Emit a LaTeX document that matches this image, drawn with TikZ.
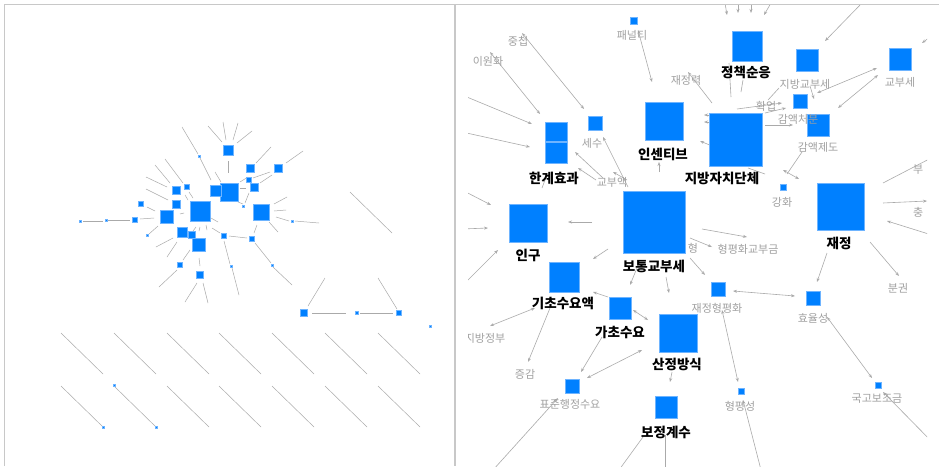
\documentclass[tikz,border=0pt]{standalone}
\usepackage{fontspec}
\newfontfamily\kr{Noto Sans CJK KR}
\usetikzlibrary{arrows.meta}
\definecolor{bl}{RGB}{0,128,255}
\definecolor{blb}{RGB}{110,180,255}
\definecolor{eg}{RGB}{170,170,170}
\definecolor{lg}{RGB}{160,160,160}
\definecolor{fr}{RGB}{200,200,200}
\begin{document}
\begin{tikzpicture}[x=1pt,y=-1pt,
  sq/.style={rectangle,fill=bl,draw=blb,line width=0.5pt,inner sep=0pt,minimum size=#1},
  sq/.default=6pt,
  ov/.style={draw=eg,line width=0.5pt},
  ed/.style={draw=eg,line width=0.6pt},
  ea/.style={ed,-{Stealth[length=4pt,width=3pt]}},
  eb/.style={ed,{Stealth[length=4pt,width=3pt]}-{Stealth[length=4pt,width=3pt]}},
  glab/.style={font=\kr\fontsize{11}{12}\selectfont,text=lg,inner sep=0pt},
  blab/.style={font=\kr\bfseries\fontsize{13.5}{15}\selectfont,text=black,inner sep=0pt}]
\useasboundingbox (0,0) rectangle (939,466);
\fill[white] (0,0) rectangle (939,466);
% frames
\draw[fr,line width=1pt] (4,466) -- (4,4) -- (939,4);
\draw[fr,line width=1.5pt] (455,4) -- (455,466);

% ---------------- left overview ----------------
\foreach \a/\b/\c/\d in {182/127/198/154,200/158/211/180,208/126/222/142,223/122/226/140,238/123/233/140,252/131/237/143,228/161/228/173,271/147/256/163,303/151/286/163,270/172/253/178,272/175/260/183,215/172/221/182,155/165/170/183,165/159/183/183,146/177/167/187,146/189/168/200,147/207/155/211,83/221/103/221,108/220/130/220,140/219/154/218,158/226/149/234,156/247/173/238,167/257/177/242,183/260/190/250,159/287/177/270,185/302/197/283,203/283/208/303,199/258/200/266,224/241/230/264,232/268/239/295,229/236/247/238,255/243/271/263,273/267/292/285,257/225/254/233,269/222/278/232,276/217/289/221,295/221/319/223,274/204/287/197,274/211/286/210,212/228/220/233,211/218/218/222,180/214/184/213,238/202/243/204,249/193/245/203,240/188/246/188,240/182/248/177,189/192/193/198,185/195/188/200,200/227/199/231,196/227/193/231,206/225/207/230,350/192/392/233,325/278/308/306,378/278/397/309,312/313/346/313,360/313/393/313}
  \draw[ov] (\a,\b) -- (\c,\d);
\foreach \x in {61,114,167,219,272,325,378}{
  \draw[ov] (\x,333) -- ++(42,41);
  \draw[ov] (\x,386) -- ++(42,41);
}
\foreach \x/\y/\s [count=\i] in {200/211/20,229/192/18,261/212/16,167/217/13,199/245/13,216/191/11,228/150/10,250/168/8,278/168/8,254/187/8,249/180/5,176/190/8,176/204/8,187/187/5,141/204/5,135/220/5,106/220/2.5,80/221/2.5,182/232/10,192/235/7,180/265/5,200/275/7,224/236/5,252/239/5,231/266/2.5,272/265/2.5,243/206/2.5,292/221/2.5,199/156/2.5,147/235/2.5,304/313/7,357/313/3,399/313/5,430/326/2.5,114/385/2.5,103/427/2.5,156/427/2.5}
  \node[sq=\s pt,line width=0.3pt] (o\i) at (\x,\y) {};

% ---------------- right zoomed view ----------------
\begin{scope}
\clip (468,5) rectangle (927,466);
% connectors
\draw[eb] (522,33) -- (584,109);
\draw[eb] (490,52) -- (540,114);
\draw[ea] (462,95) -- (532,124);
\draw[ea] (462,132) -- (530,147);
\draw[eb] (638,30) -- (652,82);
\draw[ea] (712,103) -- (688,72);
\draw[ea] (725,3) -- (727,15);
\draw[ea] (738,3) -- (738,13);
\draw[ea] (751,3) -- (751,13);
\draw[ea] (771,3) -- (764,15);
\draw[ea] (862,3) -- (825,41);
\draw[ea] (934,34) -- (922,43);
\draw[ed] (731,97) -- (729,63);
\draw[ed] (741,92) -- (743,80);
\draw[ea] (737,109) -- (782,103);
\draw[ea] (765,113) -- (786,108);
\draw[ea] (765,125) -- (793,125);
\draw[ed] (768,100) -- (779,88);
\draw[ea] (810,86) -- (814,99);
\draw[eb] (877,68) -- (817,93);
\draw[eb] (878,75) -- (838,108);
\draw[ea] (713,115) -- (704,115);
\draw[ea] (713,122) -- (704,122);
\draw[ea] (712,146) -- (700,141);
\draw[ed] (802,152) -- (787,174);
\draw[eb] (783,170) -- (799,179);
\draw[ed] (748,168) -- (765,174);
\draw[ed] (883,183) -- (935,156);
\draw[ea] (883,203) -- (927,201);
\draw[ea] (935,236) -- (887,221);
\draw[ea] (870,242) -- (899,276);
\draw[ea] (827,253) -- (817,282);
\draw[eb] (733,291) -- (795,296);
\draw[ea] (702,229) -- (747,237);
\draw[ea] (690,238) -- (712,247);
\draw[ea] (690,258) -- (705,275);
\draw[ea] (608,249) -- (593,259);
\draw[ea] (637,268) -- (630,285);
\draw[ea] (666,277) -- (669,293);
\draw[eb] (633,310) -- (648,320);
\draw[ea] (608,297) -- (593,292);
\draw[eb] (722,310) -- (738,382);
\draw[eb] (535,308) -- (490,326);
\draw[ea] (550,308) -- (528,362);
\draw[ea] (602,337) -- (581,372);
\draw[eb] (642,350) -- (587,378);
\draw[ea] (493,470) -- (558,398);
\draw[ea] (672,372) -- (670,382);
\draw[ed] (643,437) -- (619,470);
\draw[ed] (665,435) -- (665,470);
\draw[ea] (761,470) -- (743,400);
\draw[eb] (827,317) -- (872,378);
\draw[ea] (940,450) -- (883,392);
\draw[ea] (592,222) -- (568,222);
\draw[ea] (462,190) -- (491,205);
\draw[ea] (462,229) -- (488,228);
\draw[ea] (464,284) -- (498,250);
\draw[ea] (628,187) -- (603,137);
\draw[ea] (603,178) -- (575,152);
\draw[ea] (596,180) -- (578,168);
\draw[ea] (627,180) -- (613,172);
\draw[ea] (659,172) -- (659,162);
\draw[ed] (542,188) -- (545,180);

% squares
\node[sq=7pt]  (pen)  at (634,21) {};
\node[sq=14pt] (sesu) at (595,123) {};
\node[sq=22pt,minimum height=19pt] (hg1) at (556,132) {};
\node[sq=22pt,minimum height=21pt] (hg2) at (556,153) {};
\node[sq=38pt] (inc)  at (664,121) {};
\node[sq=30pt] (jcs)  at (747,46) {};
\node[sq=22pt] (jbs)  at (807,60) {};
\node[sq=14pt] (gac)  at (800,101) {};
\node[sq=22pt] (gaj)  at (818,125) {};
\node[sq=22pt] (gbs)  at (900,59) {};
\node[sq=53pt] (jjd)  at (736,140) {};
\node[sq=38pt] (ingu) at (528,223) {};
\node[sq=62pt] (btg)  at (654,222) {};
\node[sq=30pt] (gcs)  at (564,277) {};
\node[sq=47pt] (jj)   at (841,207) {};
\node[sq=6pt]  (gh)   at (783,187) {};
\node[sq=14pt] (jhp)  at (718,289) {};
\node[sq=14pt] (hyo)  at (813,298) {};
\node[sq=22pt] (gcy)  at (620,308) {};
\node[sq=38pt] (sjb)  at (678,333) {};
\node[sq=14pt] (phs)  at (572,386) {};
\node[sq=22pt] (bjg)  at (666,407) {};
\node[sq=6pt]  (hps)  at (741,391) {};
\node[sq=6pt]  (ggb)  at (878,385) {};

% gray labels
\node[glab] (l1) at (632,35) {패널티};
\node[glab] (l2) at (518,41) {중첩};
\node[glab] (l3) at (488,61) {이원화};
\node[glab] (l4) at (686,80) {재정력};
\node[glab] (l5) at (592,143) {세수};
\node[glab] (l6) at (805,84) {지방교부세};
\node[glab] (l7) at (766,106) {확업};
\node[glab] (l8) at (798,119) {감액처분};
\node[glab] (l9) at (818,147) {감액제도};
\node[glab] (l10) at (900,82) {교부세};
\node[glab] (l11) at (612,182) {교부액};
\node[glab] (l12) at (782,202) {강화};
\node[glab] (l13) at (693,248) {형};
\node[glab] (l14) at (748,249) {형평화교부금};
\node[glab] (l15) at (717,308) {재정형평화};
\node[glab] (l16) at (813,318) {효율성};
\node[glab] (l17) at (898,288) {분권};
\node[glab] (l18) at (485,338) {지방정부};
\node[glab] (l19) at (525,374) {증감};
\node[glab] (l20) at (570,404) {표준행정수요};
\node[glab] (l21) at (740,406) {형평성};
\node[glab] (l22) at (877,399) {국고보조금};
\node[glab,anchor=west] (l23) at (913,170) {부};
\node[glab,anchor=west] (l24) at (913,212) {충};
% bold labels
\node[blab] (b1) at (663,154) {인센티브};
\node[blab] (b2) at (746,72) {정책순응};
\node[blab] (b3) at (554,178) {한계효과};
\node[blab] (b4) at (722,178) {지방자치단체};
\node[blab] (b5) at (528,255) {인구};
\node[blab] (b6) at (654,266) {보통교부세};
\node[blab] (b7) at (839,243) {재정};
\node[blab] (b8) at (563,303) {기초수요액};
\node[blab] (b9) at (620,332) {가초수요};
\node[blab] (b10) at (677,364) {산정방식};
\node[blab] (b11) at (666,432) {보정계수};
\end{scope}
\end{tikzpicture}
\end{document}
